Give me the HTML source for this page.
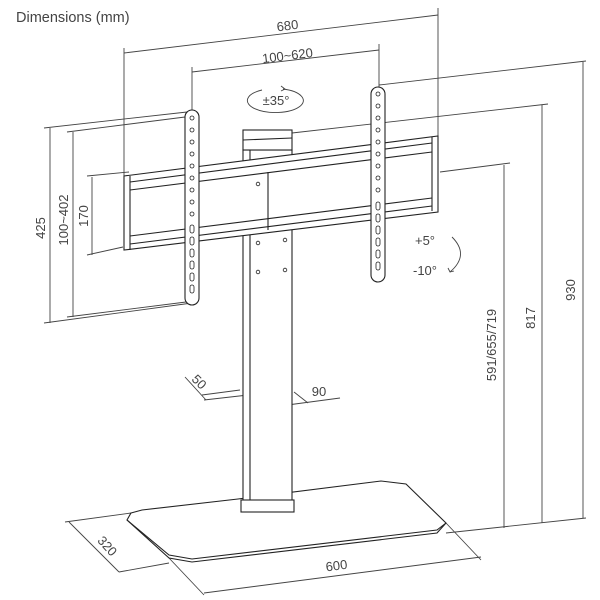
<!DOCTYPE html>
<html><head><meta charset="utf-8"><style>
html,body{margin:0;padding:0;background:#fff;}
svg{display:block}
text{font-family:"Liberation Sans",sans-serif;fill:#444;}
</style></head><body>
<svg width="600" height="600" viewBox="0 0 600 600" xmlns="http://www.w3.org/2000/svg">
<text x="16" y="22" font-size="14.5">Dimensions (mm)</text>
<g stroke="#444" stroke-width="0.9" fill="none">
<!-- 680 -->
<line x1="124" y1="53" x2="438" y2="15"/>
<line x1="124" y1="48" x2="124" y2="248"/>
<line x1="438" y1="8" x2="438" y2="175"/>
<!-- 100~620 -->
<line x1="192" y1="72" x2="379" y2="50"/>
<line x1="192" y1="67" x2="192" y2="112"/>
<line x1="379" y1="44" x2="379" y2="88"/>
<!-- 35 ellipse -->
<path d="M283,89 A28,12 0 1 1 262,90"/>
<path d="M281,86 l4,3 l-4,2" />
<!-- 425 -->
<line x1="50" y1="128" x2="50" y2="323"/>
<line x1="44" y1="128" x2="187" y2="112"/>
<line x1="44" y1="323" x2="192" y2="303"/>
<!-- 100~402 -->
<line x1="73" y1="132" x2="73" y2="317"/>
<line x1="67" y1="132" x2="185" y2="117"/>
<line x1="67" y1="317" x2="186" y2="302"/>
<!-- 170 -->
<line x1="92" y1="177" x2="92" y2="255"/>
<line x1="87" y1="176" x2="129" y2="172"/>
<line x1="87" y1="255" x2="123" y2="247"/>
<!-- right dims -->
<line x1="504" y1="165" x2="504" y2="528"/>
<line x1="440" y1="172" x2="510" y2="163"/>
<line x1="542" y1="105" x2="542" y2="523"/>
<line x1="292" y1="133" x2="548" y2="104"/>
<line x1="583" y1="62" x2="583" y2="518"/>
<line x1="379" y1="85" x2="586" y2="61"/>
<line x1="446" y1="533" x2="586" y2="518"/>
<!-- base dims -->
<line x1="204" y1="593" x2="481" y2="557"/>
<line x1="169" y1="558" x2="204" y2="595"/>
<line x1="446" y1="523" x2="481" y2="560"/>
<line x1="69" y1="522" x2="119" y2="572"/>
<line x1="65" y1="522" x2="131" y2="513"/>
<line x1="119" y1="572" x2="169" y2="563"/>
<!-- 50 / 90 -->
<line x1="185" y1="377" x2="206" y2="400"/>
<line x1="202" y1="395" x2="240" y2="390"/>
<line x1="204" y1="400" x2="248" y2="395"/>
<line x1="265" y1="408" x2="340" y2="398"/>
<line x1="252" y1="397" x2="265" y2="408"/>
<line x1="294" y1="392" x2="308" y2="403"/>
<!-- tilt arrow -->
<path d="M452,237 Q470,255 450,272"/>
<path d="M448,268 l2,4 l4,-1"/>
</g>
<!-- base plate -->
<g stroke="#222" stroke-width="1.1" fill="#fff">
<polygon points="131,513 142,510 238,499 381,481 406,484 446,523 437,533 192,562 169,558 127,520"/>
<polyline fill="none" points="127,520 169,555 192,559 437,530 446,523"/>
<!-- column -->
<rect x="243" y="150" width="49" height="352"/>
<line x1="250" y1="150" x2="250" y2="502"/>
<rect x="241" y="500" width="53" height="12"/>
<rect x="243" y="130" width="49" height="20"/>
<line x1="243" y1="140" x2="292" y2="138"/>
<!-- rail -->
<polygon points="124,176 438,136 438,212 124,250"/>
<line x1="130" y1="182" x2="432" y2="143"/>
<line x1="130" y1="190" x2="432" y2="152"/>
<line x1="130" y1="244" x2="432" y2="206"/>
<line x1="130" y1="236" x2="432" y2="198"/>
<line x1="130" y1="176" x2="130" y2="250"/>
<line x1="432" y1="137" x2="432" y2="211"/>
<line x1="268" y1="172" x2="268" y2="230"/>
<!-- strips -->
<rect x="185" y="110" width="14" height="195" rx="7"/>
<rect x="371" y="87" width="14" height="195" rx="7"/>
</g>
<g stroke="#222" stroke-width="0.8" fill="none">
<circle cx="192" cy="118" r="2"/><circle cx="192" cy="130" r="2"/><circle cx="192" cy="142" r="2"/><circle cx="192" cy="154" r="2"/><circle cx="192" cy="166" r="2"/><circle cx="192" cy="178" r="2"/><circle cx="192" cy="190" r="2"/><circle cx="192" cy="202" r="2"/><circle cx="192" cy="214" r="2"/>
<rect x="190" y="225" width="4" height="8" rx="2"/><rect x="190" y="237" width="4" height="8" rx="2"/><rect x="190" y="249" width="4" height="8" rx="2"/><rect x="190" y="261" width="4" height="8" rx="2"/><rect x="190" y="273" width="4" height="8" rx="2"/><rect x="190" y="285" width="4" height="8" rx="2"/>
<circle cx="378" cy="94" r="2"/><circle cx="378" cy="106" r="2"/><circle cx="378" cy="118" r="2"/><circle cx="378" cy="130" r="2"/><circle cx="378" cy="142" r="2"/><circle cx="378" cy="154" r="2"/><circle cx="378" cy="166" r="2"/><circle cx="378" cy="178" r="2"/><circle cx="378" cy="190" r="2"/>
<rect x="376" y="202" width="4" height="8" rx="2"/><rect x="376" y="214" width="4" height="8" rx="2"/><rect x="376" y="226" width="4" height="8" rx="2"/><rect x="376" y="238" width="4" height="8" rx="2"/><rect x="376" y="250" width="4" height="8" rx="2"/><rect x="376" y="262" width="4" height="8" rx="2"/>
<circle cx="258" cy="184" r="1.8"/><circle cx="258" cy="243" r="1.8"/><circle cx="285" cy="240" r="1.8"/><circle cx="258" cy="272" r="1.8"/><circle cx="285" cy="270" r="1.8"/>
</g>
<g font-size="13">
<text x="288" y="30" text-anchor="middle" transform="rotate(-7 288 30)">680</text>
<text x="288" y="60" text-anchor="middle" transform="rotate(-7 288 60)">100~620</text>
<text x="276" y="105" text-anchor="middle">±35°</text>
<text transform="translate(45,228) rotate(-90)" text-anchor="middle">425</text>
<text transform="translate(68,220) rotate(-90)" text-anchor="middle">100~402</text>
<text transform="translate(88,216) rotate(-90)" text-anchor="middle">170</text>
<text x="425" y="245" text-anchor="middle">+5°</text>
<text x="425" y="275" text-anchor="middle">-10°</text>
<text transform="translate(496,345) rotate(-90)" text-anchor="middle">591/655/719</text>
<text transform="translate(535,318) rotate(-90)" text-anchor="middle">817</text>
<text transform="translate(575,290) rotate(-90)" text-anchor="middle">930</text>
<text transform="translate(196,385) rotate(45)" text-anchor="middle">50</text>
<text x="319" y="396" text-anchor="middle">90</text>
<text transform="translate(104,549) rotate(48)" text-anchor="middle">320</text>
<text transform="translate(337,570) rotate(-7)" text-anchor="middle">600</text>
</g>
</svg>
</body></html>
